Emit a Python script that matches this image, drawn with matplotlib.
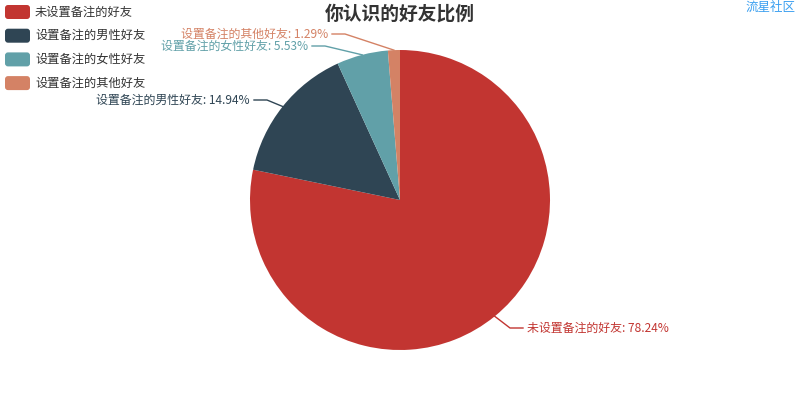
import numpy as np
import matplotlib
matplotlib.use("Agg")
from matplotlib import pyplot as plt
from matplotlib.patches import FancyBboxPatch

plt.rcParams['font.family'] = ['Noto Sans CJK SC', 'DejaVu Sans']

title = "你认识的好友比例"
names = ["未设置备注的好友", "设置备注的男性好友", "设置备注的女性好友", "设置备注的其他好友"]
values = [78.24, 14.94, 5.53, 1.29]
colors = ['#c23531', '#2f4554', '#61a0a8', '#d48265']

# label elbow positions in pixels (x, y from top) and side
elbows = [(510, 328, 1), (267, 100, -1), (325, 46, -1), (345, 34, -1)]


def main():
    W, H = 800, 400
    fig = plt.figure(figsize=(8, 4), dpi=100)
    ax = fig.add_axes([0, 0, 1, 1])

    cx, cy, r = 400, 200, 150
    ax.pie(values, colors=colors, startangle=90, counterclock=False,
           center=(cx, H - cy), radius=r, frame=True,
           wedgeprops=dict(linewidth=0))
    ax.set_xlim(0, W)
    ax.set_ylim(0, H)
    ax.set_aspect('equal')
    ax.axis('off')

    total = sum(values)
    start = 0.0
    for name, v, c, (ex, ey, side) in zip(names, values, colors, elbows):
        mid = start + v / total * 360 / 2
        start += v / total * 360
        ang = np.deg2rad(90 - mid)
        px, py = cx + r * np.cos(ang), H - cy + r * np.sin(ang)
        hx = ex + side * 13
        ax.plot([px, ex, hx], [py, H - ey, H - ey], color=c, lw=1)
        ax.text(hx + side * 4, H - ey, f"{name}: {v:.2f}%", color=c, fontsize=8.6,
                ha='left' if side > 0 else 'right', va='center')

    # legend
    for i, (name, c) in enumerate(zip(names, colors)):
        y = 12 + i * 23.7
        box = FancyBboxPatch((5, H - y - 7), 25, 14, boxstyle="round,pad=0,rounding_size=3",
                             fc=c, ec='none')
        ax.add_patch(box)
        ax.text(35, H - y, name, color='#333333', fontsize=8.8, va='center', ha='left')

    ax.text(400, H - 14, title, color='#333333', fontsize=13.5, fontweight='bold',
            ha='center', va='center')
    ax.text(795, H - 7, "流星社区", color='#3a9ff0', fontsize=9, ha='right', va='center')

    fig.savefig("out.png", dpi=100, facecolor='white')


if __name__ == "__main__":
    main()
